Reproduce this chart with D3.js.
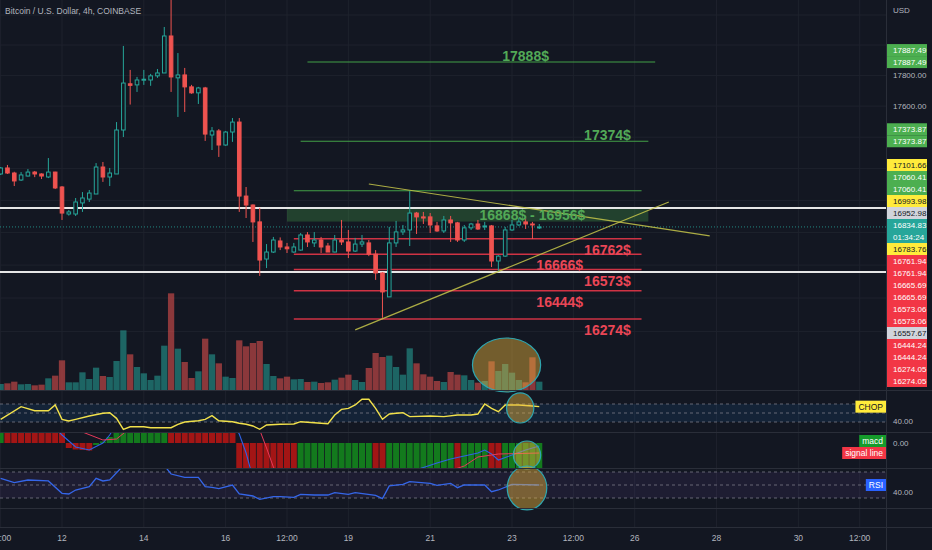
<!DOCTYPE html>
<html>
<head>
<meta charset="utf-8">
<script src="https://cdn.jsdelivr.net/npm/d3@7"></script>
<style>
html, body { margin: 0; padding: 0; background: #131722; }
svg { display: block; font-family: "Liberation Sans", Arial, sans-serif; }
</style>
</head>
<body>
<svg id="chart" width="932" height="550"></svg>
<script>
// Velas de 4h, la primera es el 10 nov 2022 12:00 (UTC)
const firstBar = Date.UTC(2022, 10, 10, 12);
const barMs = 4 * 3600 * 1000;

const opens = [17166,17204,17172,17128,17153,17178,17166,17147,17178,17084,
	16915,16915,16984,17008,17040,17210,17147,17166,17446,17745,
	17738,17770,17770,17797,17816,18060,17784,17803,17725,17686,
	17718,17414,17440,17350,17433,17497,17027,16971,16866,16637,
	16680,16748,16711,16680,16692,16785,16736,16754,16717,16680,
	16754,16742,16686,16729,16736,16667,16552,16407,16736,16804,
	16816,16921,16897,16897,16841,16810,16878,16860,16754,16829,
	16853,16835,16841,16625,16655,16816,16847,16866,16853,16830];
const highs = [17210,17223,17180,17178,17197,17185,17170,17267,17180,17090,
	16940,17015,17052,17065,17235,17242,17204,17497,17994,17836,
	17790,17836,17810,17842,18120,18320,17947,17849,17738,17725,
	17725,17465,17452,17440,17523,17523,17084,16975,16953,16729,
	16773,16770,16736,16736,16797,16803,16803,16773,16736,16785,
	16878,16816,16767,16785,16754,16692,16557,16835,16872,16847,
	17058,16928,16928,16921,16866,16903,16903,16866,16847,16860,
	16878,16866,16847,16661,16835,16878,16890,16903,16866,16853];
const lows = [17160,17166,17090,17122,17150,17146,17134,17140,17071,16878,
	16905,16903,16928,16990,17040,17116,17090,17166,17401,17610,
	17692,17738,17732,17784,17816,17692,17530,17562,17680,17614,
	17376,17318,17274,17345,17370,16928,16890,16742,16534,16582,
	16674,16692,16674,16675,16688,16711,16711,16674,16680,16678,
	16723,16643,16680,16711,16655,16510,16281,16407,16711,16785,
	16717,16791,16853,16797,16804,16797,16742,16742,16742,16816,
	16816,16816,16588,16560,16650,16810,16841,16822,16760,16822];
const closes = [17204,17172,17122,17160,17178,17166,17153,17178,17078,16921,
	16928,16990,17015,17046,17210,17147,17172,17446,17750,17735,
	17770,17775,17797,17816,18060,17790,17803,17725,17686,17718,
	17420,17440,17350,17433,17497,17027,16971,16866,16631,16680,
	16754,16711,16700,16711,16785,16742,16754,16711,16680,16754,
	16742,16686,16729,16742,16667,16552,16437,16736,16804,16816,
	16921,16897,16890,16847,16810,16878,16860,16754,16829,16853,
	16822,16841,16625,16655,16816,16847,16866,16853,16847,16834.83];
const volumes = [180,200,250,170,180,140,160,350,430,890,
	230,230,530,330,670,420,390,870,1790,1070,
	690,500,300,430,1330,2900,1240,840,360,560,
	1540,1070,800,400,360,1490,1310,1410,1470,780,
	420,350,400,320,330,240,250,210,230,310,
	370,460,300,240,660,1110,990,1030,690,460,
	1250,800,470,400,270,240,540,460,440,300,
	220,270,860,570,780,520,300,230,980,250];

// Indicadores: vértices (índice de vela, valor)
const chopIdx = [0,3,5,7,8,9,10,11,13,15,16,17,18,19,21,22,25,26,27,29,30,31,32,34,35,36,37,38,39,41,
	43,44,45,47,48,49,50,51,52,53,54,55,56,57,58,59,60,63,65,67,69,70,71,72,73,74,76,78,79];
const chopVal = [41.7,58.3,53.0,53.0,60.5,41.7,39.5,41.7,46.1,49.6,50.4,43.0,28.6,32.0,32.0,30.7,30.7,35.2,38.2,39.9,
	41.7,46.5,39.9,38.6,36.5,35.2,33.0,28.6,34.3,35.2,35.6,38.6,37.8,36.5,36.0,47.4,54.8,56.1,60.5,68.0,
	68.0,56.1,41.7,48.7,49.6,50.4,45.2,46.1,45.2,47.4,47.4,48.7,61.8,56.1,51.7,60.5,60.5,59.2,58.3];
const macdHist = [60,55,50,45,40,36,32,28,24,21,
	-10,-13,-14,-15,-4,3,12,
	25,60,80,95,105,112,118,130,
	120,110,100,92,85,70,60,50,40,28,
	-60,-90,-120,-160,-180,-190,-200,-205,-210,
	-200,-190,-180,-170,-160,-150,-140,-130,-120,-110,-100,
	-115,-130,
	-120,-110,-100,-90,-85,-80,-75,-70,-65,-60,
	-70,
	-65,-62,-58,-55,
	-62,-70,
	-66,-63,-60,-58,-56,-54];
const macdIdx = [0,8,9,11,13,15,16,17,24,34,35,36,37,39,49,59,62,64,66,68,70,71,72,73,75,77,79];
const macdVal = [60,30,16,-8,-14,0,16,40,150,40,18,-20,-70,-150,-130,-62,-49,-40,-32,-26,-20,-14,-22,-34,-24,-14,-6];
const signalIdx = [0,10,12,15,17,19,29,37,38,39,40,41,49,59,66,68,70,73,79];
const signalVal = [70,40,22,6,8,30,120,40,26,-10,-48,-70,-150,-100,-55,-46,-28,-22,-20];
const rsiIdx = [0,2,4,7,9,10,11,13,14,15,16,18,21,24,25,27,29,30,31,32,34,35,37,38,40,41,43,44,46,48,
	49,51,52,55,56,57,59,60,63,64,66,67,68,71,72,73,75,79];
const rsiVal = [60.3,53.6,57.7,56.2,37.2,36.2,42.3,47.4,60.3,56.2,57.7,80,82,80,66.9,61.8,61.8,47.4,46.4,44.4,
	50,36.2,33.1,28,32,32,31,35.7,34.6,34.6,38.2,35.7,38.2,34.1,29,48.5,51,55.1,52.6,49.5,
	52.6,45.9,50,50,39.7,42.3,51,50];

// Dibujos del autor: niveles horizontales (precio, vela inicial, vela final, texto, vela del texto)
const targetPrices = [17888, 17374, 17060.41];
const targetFrom = [45, 44, 43];
const targetTo = [96, 95, 94];
const targetText = ["17888$", "17374$", ""];
const targetTextAt = [77, 89, 0];
const supportPrices = [16762, 16666, 16573, 16444, 16274];
const supportText = ["16762$", "16666$", "16573$", "16444$", "16274$"];
const supportTextAt = [89, 82, 89, 82, 89];
const supportFrom = 43, supportTo = 94;
const zonePrices = [16868, 16956];
const zoneFrom = 42, zoneTo = 95, zoneTextAt = 78;
const whiteLines = [16952.98, 16557.67];
const lastPrice = 16834.83;
const countdown = "01:34:24";
// Líneas de tendencia: [vela, precio] inicio y fin
const trendUpper = [[54, 17103], [104, 16779]];
const trendLower = [[52, 16209], [98, 16990]];

// Etiquetas del eje de precios
const tagPrices = [17887.49,17887.49,17373.87,17373.87,17101.66,17060.41,17060.41,16993.98,16952.98,16834.83,
	16783.76,16761.94,16761.94,16665.69,16665.69,16573.06,16573.06,16557.67,16444.24,16444.24,16274.05,16274.05];
const tagKinds = ["green","green","green","green","yellow","green","green","yellow","gray","last",
	"yellow","red","red","red","red","red","red","gray","red","red","red","red"];
const priceTicks = [16200,16400,16600,16800,17000,17200,17400,17600,17800,18000,18200];
const tickTimes = [Date.UTC(2022,10,10,12), Date.UTC(2022,10,12), Date.UTC(2022,10,14), Date.UTC(2022,10,16),
	Date.UTC(2022,10,17,12), Date.UTC(2022,10,19), Date.UTC(2022,10,21), Date.UTC(2022,10,23),
	Date.UTC(2022,10,24,12), Date.UTC(2022,10,26), Date.UTC(2022,10,28), Date.UTC(2022,10,30), Date.UTC(2022,11,1,12)];

// Círculos marcados por el autor: vela central, valor central, radio en velas, radio en valor
const circleVolume = [74.2, 750, 5, 810];
const circleChop = [76.2, 56.6, 2, 19.7];
const circleMacd = [77.2, -24, 2, 28];
const circleRsi = [77.2, 45.4, 2.9, 33.8];

// ---------------------------------------------------------------
const bg = "#131722";
const upColor = "#26a69a", downColor = "#ef5350";
const textColor = "#b2b5be", lineColor = "#2a2e39", gridColor = "#1e222d";
const plotRight = 886;
const panes = {
	main: [0, 390], chop: [391, 432], macd: [433, 468], rsi: [469, 508], empty: [509, 527]
};

const svg = d3.select("#chart");
svg.append("rect").attr("width", 932).attr("height", 550).attr("fill", bg);
const defs = svg.append("defs");

function addClip(id, pane) {
	defs.append("clipPath").attr("id", id).append("rect")
		.attr("x", 0).attr("y", pane[0]).attr("width", plotRight).attr("height", pane[1] - pane[0]);
	return "url(#" + id + ")";
}

// Escalas
const x = d3.scaleTime()
	.domain([new Date(Date.UTC(2022, 10, 12)), new Date(Date.UTC(2022, 10, 23))])
	.range([62, 512]);
const barX = i => x(new Date(firstBar + i * barMs));
const barStep = barX(1) - barX(0);
const yPrice = d3.scaleLog().domain([16274.05, 17888]).range([319, 62]);
const yVol = d3.scaleLinear().domain([0, 3000]).range([panes.main[1], 290]);
const yChop = d3.scaleLinear().domain([38.2, 61.8]).range([422, 404]);
const yMacd = d3.scaleLinear().domain([0, 20]).range([443, 433]);
const yRsi = d3.scaleLinear().domain([30, 70]).range([498, 472]);

const n = opens.length;
const isUp = i => closes[i] >= opens[i];

// Rejilla
const grid = svg.append("g");
grid.selectAll("line.v").data(tickTimes.filter(t => x(new Date(t)) < plotRight)).join("line")
	.attr("x1", t => x(new Date(t))).attr("x2", t => x(new Date(t)))
	.attr("y1", 0).attr("y2", panes.empty[1])
	.attr("stroke", gridColor).attr("stroke-width", 1);
grid.selectAll("line.h").data(priceTicks).join("line")
	.attr("x1", 0).attr("x2", plotRight)
	.attr("y1", d => yPrice(d)).attr("y2", d => yPrice(d))
	.attr("stroke", gridColor).attr("stroke-width", 1);

// ---------------- panel principal ----------------
const main = svg.append("g").attr("clip-path", addClip("clipMain", panes.main));

// Volumen
main.append("g").selectAll("rect").data(volumes).join("rect")
	.attr("x", (d, i) => barX(i) - barStep * 0.46)
	.attr("width", barStep * 0.92)
	.attr("y", d => yVol(d))
	.attr("height", d => yVol(0) - yVol(d))
	.attr("fill", (d, i) => isUp(i) ? upColor : downColor)
	.attr("opacity", 0.55);

// Zona verde
main.append("rect")
	.attr("x", barX(zoneFrom)).attr("width", barX(zoneTo) - barX(zoneFrom))
	.attr("y", yPrice(zonePrices[1])).attr("height", yPrice(zonePrices[0]) - yPrice(zonePrices[1]))
	.attr("fill", "rgba(76,175,80,0.28)");

// Niveles verdes y rojos
main.append("g").selectAll("line").data(targetPrices).join("line")
	.attr("x1", (d, i) => barX(targetFrom[i])).attr("x2", (d, i) => barX(targetTo[i]))
	.attr("y1", d => yPrice(d)).attr("y2", d => yPrice(d))
	.attr("stroke", "#43a047").attr("stroke-width", 1.2);
main.append("g").selectAll("line").data(supportPrices).join("line")
	.attr("x1", barX(supportFrom)).attr("x2", barX(supportTo))
	.attr("y1", d => yPrice(d)).attr("y2", d => yPrice(d))
	.attr("stroke", "#cf3344").attr("stroke-width", 1.6);

// Líneas blancas
main.append("g").selectAll("line").data(whiteLines).join("line")
	.attr("x1", 0).attr("x2", plotRight)
	.attr("y1", d => yPrice(d)).attr("y2", d => yPrice(d))
	.attr("stroke", "#e6e6e6").attr("stroke-width", 2);

// Precio actual
main.append("line")
	.attr("x1", 0).attr("x2", plotRight)
	.attr("y1", yPrice(lastPrice)).attr("y2", yPrice(lastPrice))
	.attr("stroke", upColor).attr("stroke-dasharray", "1,2").attr("opacity", 0.8);

// Velas
const candles = main.append("g");
const bodyW = 4.6;
candles.selectAll("line").data(d3.range(n)).join("line")
	.attr("x1", i => barX(i)).attr("x2", i => barX(i))
	.attr("y1", i => yPrice(highs[i])).attr("y2", i => yPrice(lows[i]))
	.attr("stroke", i => isUp(i) ? upColor : downColor).attr("stroke-width", 1);
candles.selectAll("rect").data(d3.range(n)).join("rect")
	.attr("x", i => barX(i) - bodyW / 2 + 0.5)
	.attr("width", bodyW - 1)
	.attr("y", i => yPrice(Math.max(opens[i], closes[i])))
	.attr("height", i => Math.max(1, Math.abs(yPrice(opens[i]) - yPrice(closes[i]))))
	.attr("fill", i => isUp(i) ? bg : downColor)
	.attr("stroke", i => isUp(i) ? upColor : downColor)
	.attr("stroke-width", 1);

// Líneas de tendencia
main.append("g").selectAll("line").data([trendUpper, trendLower]).join("line")
	.attr("x1", d => barX(d[0][0])).attr("y1", d => yPrice(d[0][1]))
	.attr("x2", d => barX(d[1][0])).attr("y2", d => yPrice(d[1][1]))
	.attr("stroke", "#c6c64a").attr("stroke-width", 1.2).attr("opacity", 0.85);

// Textos de los niveles
const labels = main.append("g").attr("font-size", 14).attr("font-weight", "bold").attr("text-anchor", "middle");
targetPrices.forEach((p, i) => {
	if (!targetText[i]) return;
	labels.append("text").attr("x", barX(targetTextAt[i])).attr("y", yPrice(p) - 1)
		.attr("fill", "#52a957").text(targetText[i]);
});
supportPrices.forEach((p, i) => {
	labels.append("text").attr("x", barX(supportTextAt[i])).attr("y", yPrice(p) + 16)
		.attr("fill", "#ea4656").text(supportText[i]);
});
labels.append("text").attr("x", barX(zoneTextAt)).attr("y", yPrice(zonePrices[0]) - 2)
	.attr("fill", "#52a957").text(zonePrices[0] + "$ - " + zonePrices[1] + "$");

// Círculos
function drawCircle(c, yScale) {
	const cx = barX(c[0]);
	svg.append("ellipse")
		.attr("cx", cx).attr("cy", yScale(c[1]))
		.attr("rx", barX(c[0] + c[2]) - cx)
		.attr("ry", Math.abs(yScale(c[1] + c[3]) - yScale(c[1])))
		.attr("fill", "rgba(232,180,60,0.45)")
		.attr("stroke", "#2fa6b0").attr("stroke-width", 1.2);
}

// ---------------- CHOP ----------------
const chop = svg.append("g").attr("clip-path", addClip("clipChop", panes.chop));
chop.append("rect").attr("x", 0).attr("width", plotRight)
	.attr("y", yChop(61.8)).attr("height", yChop(38.2) - yChop(61.8))
	.attr("fill", "rgba(33,150,243,0.1)");
chop.selectAll("line").data([61.8, 50, 38.2]).join("line")
	.attr("x1", 0).attr("x2", plotRight).attr("y1", d => yChop(d)).attr("y2", d => yChop(d))
	.attr("stroke", "#787b86").attr("stroke-dasharray", "3,3").attr("opacity", 0.8);
chop.append("path")
	.datum(chopIdx.map((d, i) => [d, chopVal[i]]))
	.attr("d", d3.line().x(d => barX(d[0])).y(d => yChop(d[1])))
	.attr("fill", "none").attr("stroke", "#f2e14b").attr("stroke-width", 1.4);

// ---------------- MACD ----------------
const macd = svg.append("g").attr("clip-path", addClip("clipMacd", panes.macd));
macd.selectAll("rect").data(macdHist).join("rect")
	.attr("x", (d, i) => barX(i) - barStep / 2 + 0.4)
	.attr("width", barStep - 0.8)
	.attr("y", d => Math.min(yMacd(0), yMacd(d)))
	.attr("height", d => Math.abs(yMacd(d) - yMacd(0)))
	.attr("fill", (d, i) => (i === 0 || d >= macdHist[i - 1]) ? "#137a1d" : "#a31515");
macd.append("path")
	.datum(macdIdx.map((d, i) => [d, macdVal[i]]))
	.attr("d", d3.line().x(d => barX(d[0])).y(d => yMacd(d[1])))
	.attr("fill", "none").attr("stroke", "#2f62e6").attr("stroke-width", 1.1);
macd.append("path")
	.datum(signalIdx.map((d, i) => [d, signalVal[i]]))
	.attr("d", d3.line().x(d => barX(d[0])).y(d => yMacd(d[1])))
	.attr("fill", "none").attr("stroke", "#e5395a").attr("stroke-width", 1);

// ---------------- RSI ----------------
const rsi = svg.append("g").attr("clip-path", addClip("clipRsi", panes.rsi));
rsi.append("rect").attr("x", 0).attr("width", plotRight)
	.attr("y", yRsi(70)).attr("height", yRsi(30) - yRsi(70))
	.attr("fill", "rgba(126,87,194,0.1)");
rsi.selectAll("line").data([70, 50, 30]).join("line")
	.attr("x1", 0).attr("x2", plotRight).attr("y1", d => yRsi(d)).attr("y2", d => yRsi(d))
	.attr("stroke", "#787b86").attr("stroke-dasharray", "3,3").attr("opacity", 0.8);
rsi.append("path")
	.datum(rsiIdx.map((d, i) => [d, rsiVal[i]]))
	.attr("d", d3.line().x(d => barX(d[0])).y(d => yRsi(d[1])))
	.attr("fill", "none").attr("stroke", "#3566e8").attr("stroke-width", 1.3);

drawCircle(circleVolume, yVol);
drawCircle(circleChop, yChop);
drawCircle(circleMacd, yMacd);
drawCircle(circleRsi, yRsi);

// Separadores de paneles
const sep = svg.append("g").attr("stroke", lineColor).attr("stroke-width", 1);
[panes.main[1], panes.chop[1], panes.macd[1], panes.rsi[1], panes.empty[1]].forEach(y => {
	sep.append("line").attr("x1", 0).attr("x2", 932).attr("y1", y + 0.5).attr("y2", y + 0.5);
});
sep.append("line").attr("x1", plotRight + 0.5).attr("x2", plotRight + 0.5).attr("y1", 0).attr("y2", 550);

// ---------------- eje de precios ----------------
const axis = svg.append("g").attr("font-size", 8);
axis.append("text").attr("x", 893).attr("y", 13).attr("fill", textColor).text("USD");

// Etiquetas apiladas: en un grupo de precios iguales la última queda en su precio,
// luego empuje hacia abajo y tope inferior del panel
const tagStyles = {
	green: ["#4caf50", "#ffffff"], yellow: ["#ffeb3b", "#131722"], gray: ["#d1d4dc", "#131722"],
	red: ["#f23645", "#ffffff"], last: ["#26a69a", "#ffffff"]
};
const tagH = 12;
const tags = tagPrices.map((p, i) => ({ price: p, kind: tagKinds[i], size: tagKinds[i] === "last" ? tagH * 2 : tagH }));
for (let i = 0; i < tags.length;) {
	let j = i;
	while (j + 1 < tags.length && tags[j + 1].price === tags[i].price) j++;
	const total = d3.sum(tags.slice(i, j + 1), t => t.size);
	let top = yPrice(tags[i].price) + tags[j].size / 2 - total;
	for (let k = i; k <= j; k++) { tags[k].top = top; top += tags[k].size; }
	i = j + 1;
}
for (let k = 1; k < tags.length; k++) {
	const prev = tags[k - 1];
	if (tags[k].top < prev.top + prev.size) tags[k].top = prev.top + prev.size;
}
const tagBottom = panes.main[1] - 3;
const lastTag = tags[tags.length - 1];
if (lastTag.top + lastTag.size > tagBottom) lastTag.top = tagBottom - lastTag.size;
for (let k = tags.length - 2; k >= 0; k--) {
	if (tags[k].top + tags[k].size > tags[k + 1].top) tags[k].top = tags[k + 1].top - tags[k].size;
}

// Marcas de precio que no quedan tapadas por una etiqueta
const freeTicks = priceTicks.filter(p => {
	const y = yPrice(p);
	if (y < 24 || y > panes.main[1] - 8) return false;
	return !tags.some(t => y + 5 > t.top && y - 5 < t.top + t.size);
});
axis.selectAll("text.tick").data(freeTicks).join("text")
	.attr("class", "tick").attr("x", 893).attr("y", d => yPrice(d) + 3)
	.attr("fill", textColor).text(d => d3.format(".2f")(d));

const tagG = axis.append("g");
tags.forEach(t => {
	const style = tagStyles[t.kind];
	tagG.append("rect").attr("x", plotRight + 1).attr("y", t.top).attr("width", 40).attr("height", t.size)
		.attr("fill", style[0]);
	tagG.append("text").attr("x", 893).attr("y", t.top + tagH / 2 + 3)
		.attr("fill", style[1]).text(d3.format(".2f")(t.price));
	if (t.kind === "last") {
		tagG.append("text").attr("x", 893).attr("y", t.top + tagH * 1.5 + 3)
			.attr("fill", style[1]).text(countdown);
	}
});

// Valores de los paneles inferiores
axis.append("text").attr("x", 893).attr("y", yChop(40) + 3).attr("fill", textColor).text("40.00");
axis.append("text").attr("x", 893).attr("y", yMacd(0) + 3).attr("fill", textColor).text("0.00");
axis.append("text").attr("x", 893).attr("y", yRsi(40) + 3).attr("fill", textColor).text("40.00");

// Etiquetas de nombre de los indicadores, pegadas al eje
function paneTag(label, y, fill, color) {
	const g = svg.append("g").attr("font-size", 8.5);
	const t = g.append("text").attr("x", plotRight - 3).attr("y", y + 3)
		.attr("text-anchor", "end").attr("fill", color).text(label);
	const w = t.node().getComputedTextLength();
	g.insert("rect", "text").attr("x", plotRight - w - 6).attr("y", y - 6)
		.attr("width", w + 6).attr("height", 12).attr("fill", fill);
}
paneTag("CHOP", yChop(chopVal[chopVal.length - 1]), "#ffeb3b", "#131722");
const macdLast = yMacd(macdVal[macdVal.length - 1]), sigLast = yMacd(signalVal[signalVal.length - 1]);
const overlap = Math.max(0, 12 - (sigLast - macdLast));
paneTag("macd", macdLast - overlap, "#159b2b", "#ffffff");
paneTag("signal line", sigLast, "#f23645", "#ffffff");
paneTag("RSI", yRsi(rsiVal[rsiVal.length - 1]), "#2962ff", "#ffffff");

// ---------------- eje de tiempo ----------------
const timeFmt = d => d.getUTCHours() === 12 ? "12:00" : String(d.getUTCDate());
svg.append("g").attr("font-size", 8.5).attr("text-anchor", "middle")
	.selectAll("text").data(tickTimes.filter(t => x(new Date(t)) < plotRight)).join("text")
	.attr("x", t => x(new Date(t))).attr("y", 541)
	.attr("fill", textColor).text(t => timeFmt(new Date(t)));

// Título
svg.append("text").attr("x", 5).attr("y", 14).attr("font-size", 8.5).attr("fill", textColor)
	.text("Bitcoin / U.S. Dollar, 4h, COINBASE");
</script>
</body>
</html>
